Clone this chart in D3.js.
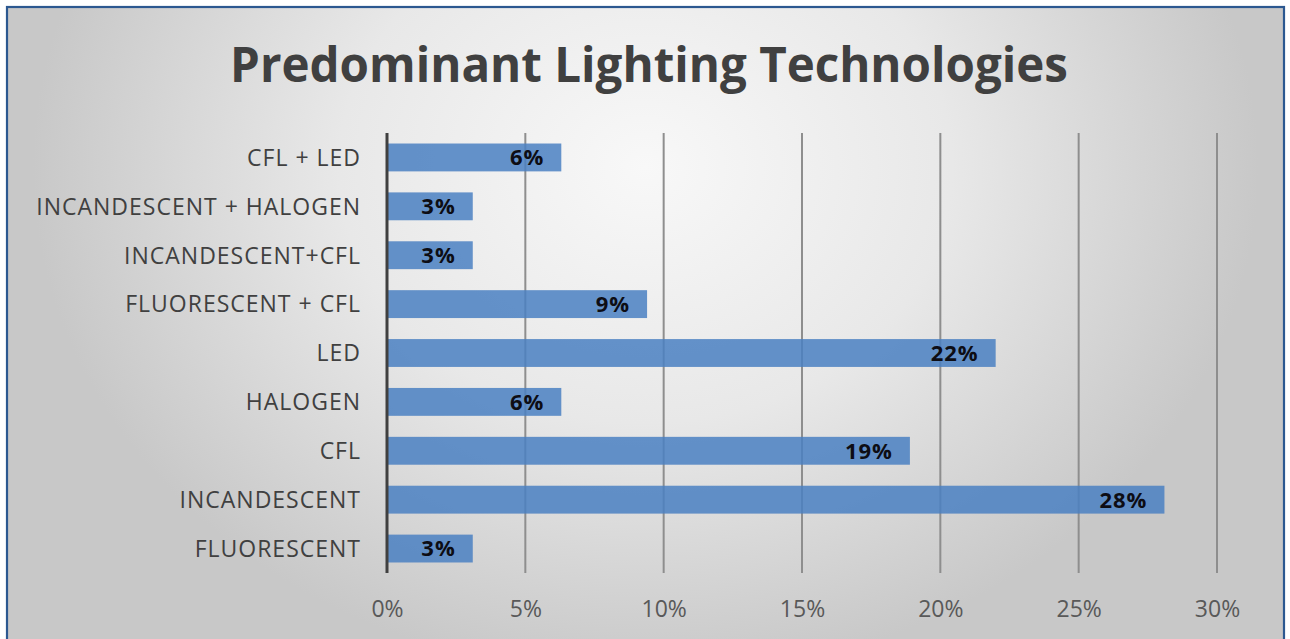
<!DOCTYPE html>
<html><head><meta charset="utf-8">
<script src="https://cdn.jsdelivr.net/npm/d3@7"></script>
<style>html,body{margin:0;padding:0;background:#fff;overflow:hidden}</style>
</head><body>
<svg id="c" width="1290" height="639"></svg>
<script>
const categories = ["CFL + LED","INCANDESCENT + HALOGEN","INCANDESCENT+CFL","FLUORESCENT + CFL","LED","HALOGEN","CFL","INCANDESCENT","FLUORESCENT"];
const values = [0.063, 0.031, 0.031, 0.094, 0.220, 0.063, 0.189, 0.281, 0.031];
const labels = ["6%","3%","3%","9%","22%","6%","19%","28%","3%"];
const xTicks = [0,0.05,0.10,0.15,0.20,0.25,0.30];
const title = "Predominant Lighting Technologies";

const svg = d3.select("#c");
const defs = svg.append("defs");
const g = defs.append("radialGradient").attr("id","bg").attr("cx","0.5").attr("cy","0.25").attr("r","0.8")
  .attr("gradientTransform","translate(0.5,0.25) scale(0.6,1) translate(-0.5,-0.25)");
g.append("stop").attr("offset","0").attr("stop-color","#f8f8f8");
g.append("stop").attr("offset","0.5").attr("stop-color","#e8e8e8");
g.append("stop").attr("offset","1").attr("stop-color","#c8c8c8");

svg.append("rect").attr("x",0).attr("y",0).attr("width",1290).attr("height",639).attr("fill","#ffffff");
svg.append("rect").attr("x",7).attr("y",7).attr("width",1277).attr("height",640)
  .attr("fill","url(#bg)").attr("stroke","#2c5890").attr("stroke-width",2.2);

const x = d3.scaleLinear().domain([0,0.30]).range([387,1217]);
const y = d3.scaleBand().domain(categories).range([133,573]).paddingInner(0.43).paddingOuter(0.215);

const FONT = "'Open Sans', sans-serif";

// gridlines
svg.append("g").selectAll("line").data(xTicks.slice(1)).join("line")
  .attr("x1",d=>x(d)).attr("x2",d=>x(d)).attr("y1",133).attr("y2",573)
  .attr("stroke","#8e8e8e").attr("stroke-width",2);

// bars
svg.append("g").selectAll("rect").data(values).join("rect")
  .attr("x",x(0)).attr("y",(d,i)=>y(categories[i]))
  .attr("width",d=>x(d)-x(0)).attr("height",y.bandwidth())
  .attr("fill","#4a80c2").attr("fill-opacity",0.85);

// axis line
svg.append("line").attr("x1",x(0)).attr("x2",x(0)).attr("y1",133).attr("y2",573)
  .attr("stroke","#404040").attr("stroke-width",3);

// x tick labels
const xa = d3.axisBottom(x).tickValues(xTicks).tickFormat(d3.format(".0%")).tickSize(0).tickPadding(0);
const xg = svg.append("g").attr("transform","translate(0,617)").call(xa);
xg.select(".domain").remove();
xg.selectAll("text").attr("font-family",FONT).attr("font-size",23)
  .attr("fill","#595959").attr("dy",0).attr("y",0);

// y labels
const ya = d3.axisLeft(y).tickSize(0).tickPadding(0);
const yg = svg.append("g").attr("transform","translate(361,0)").call(ya);
yg.select(".domain").remove();
yg.selectAll("text").attr("font-family",FONT).attr("font-size",23).attr("letter-spacing","1px")
  .attr("fill","#404040").attr("dy","0.36em");

// data labels
svg.append("g").selectAll("text").data(values).join("text")
  .attr("x",d=>x(d)-17).attr("y",(d,i)=>y(categories[i])+y.bandwidth()/2)
  .attr("dy","0.36em").attr("text-anchor","end")
  .attr("font-family",FONT).attr("font-weight","bold").attr("font-size",22).attr("letter-spacing","1px")
  .attr("fill","#0d0d14").text((d,i)=>labels[i]);

// title
svg.append("text").attr("x",649).attr("y",82).attr("text-anchor","middle")
  .attr("font-family",FONT).attr("font-weight","bold").attr("font-size",47.5)
  .attr("fill","#404040").text(title);
</script>
</body></html>
